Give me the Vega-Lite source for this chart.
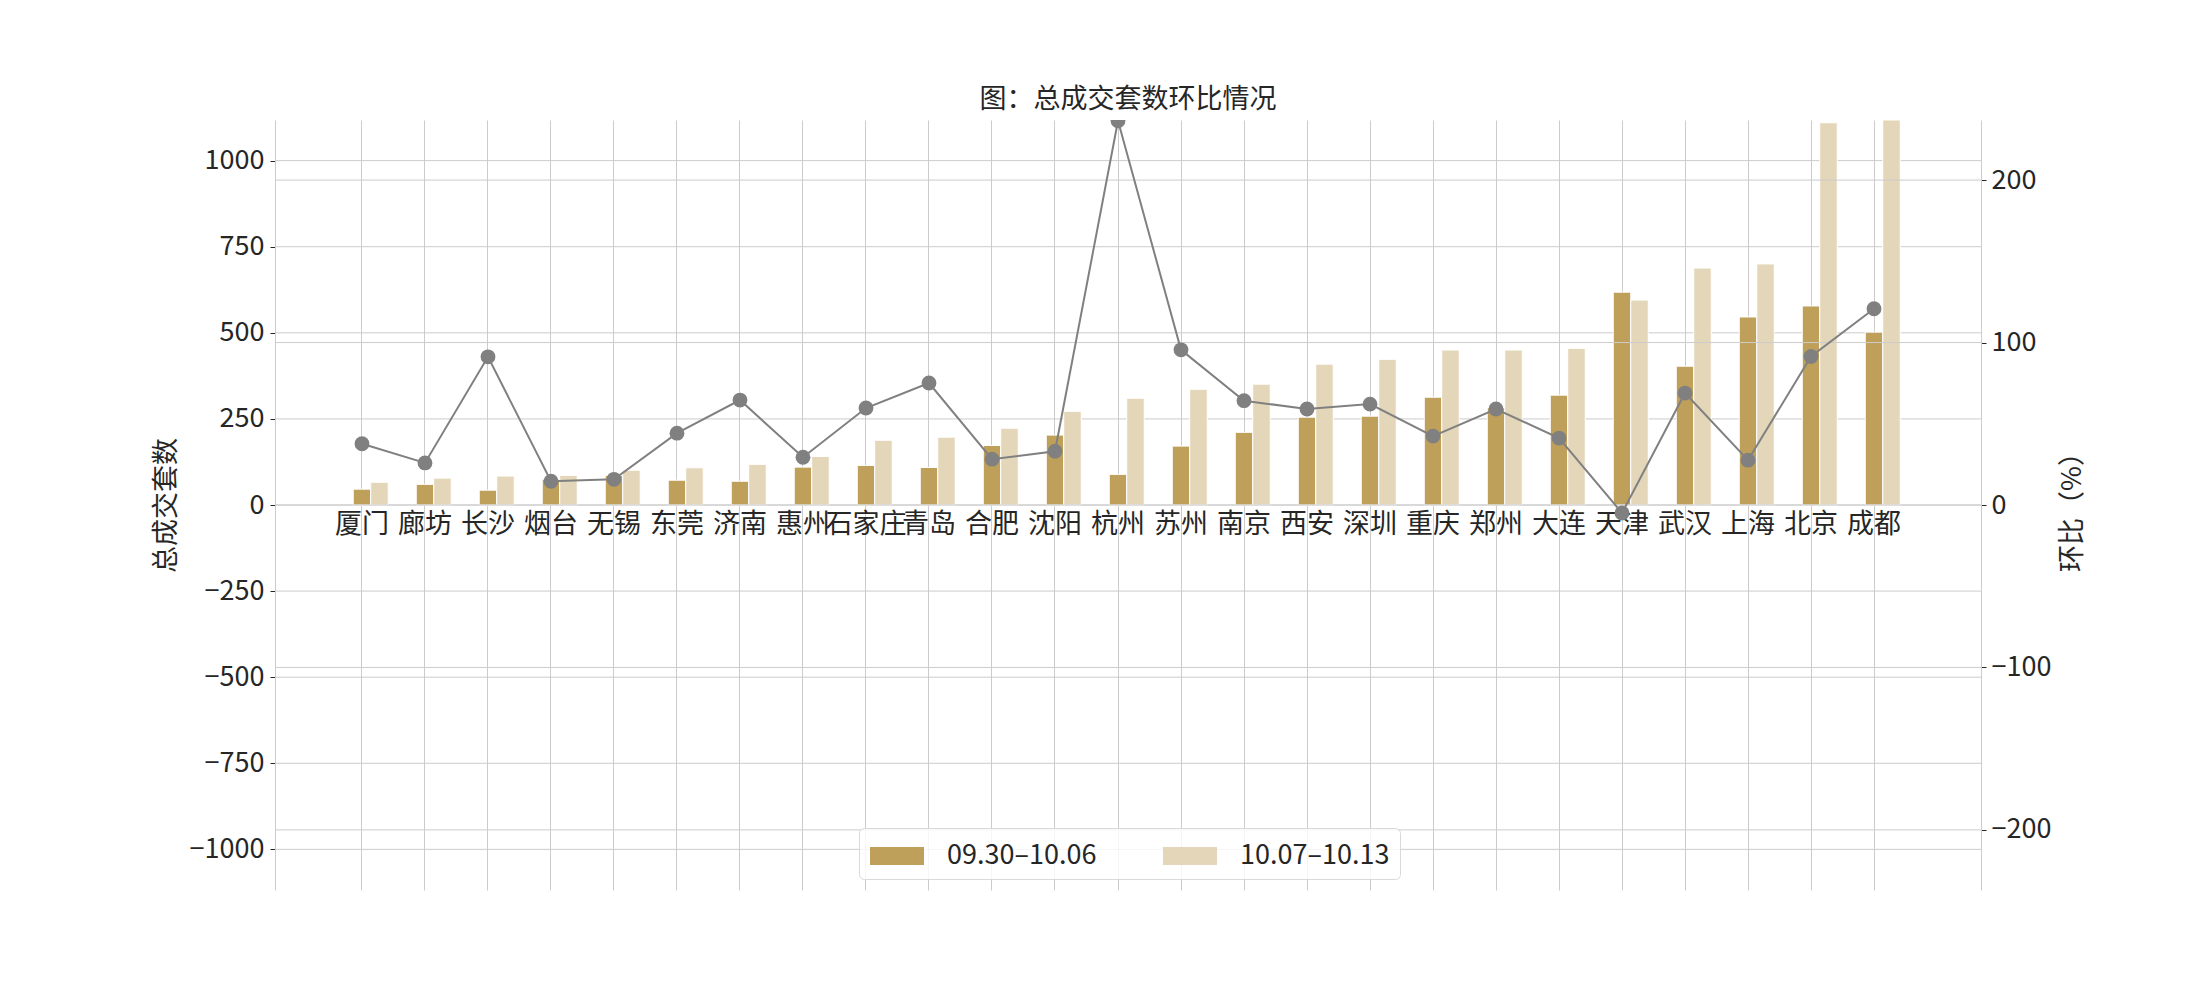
{
  "$schema": "https://vega.github.io/schema/vega-lite/v6.json",
  "width": 1706,
  "height": 770,
  "autosize": {"type": "none"},
  "padding": {"left": 275, "top": 120, "right": 219, "bottom": 110},
  "background": "white",
  "title": {
    "text": "图：总成交套数环比情况",
    "fontSize": 27,
    "fontWeight": "normal",
    "color": "#262626",
    "offset": 6
  },
  "config": {
    "font": "Noto Sans CJK SC",
    "view": {"stroke": null},
    "axis": {
      "labelFont": "Noto Sans CJK SC",
      "titleFont": "Noto Sans CJK SC",
      "labelFontSize": 27,
      "labelColor": "#262626",
      "titleFontSize": 27,
      "titleFontWeight": "normal",
      "titleColor": "#262626",
      "domainColor": "#cccccc",
      "gridColor": "#cccccc",
      "gridOpacity": 1,
      "tickColor": "#262626",
      "tickSize": 5
    },
    "legend": {"labelFont": "Noto Sans CJK SC"}
  },
  "datasets": {
    "sets": [
      {"city": "厦门", "period": "09.30–10.06", "sets": 46},
      {"city": "厦门", "period": "10.07–10.13", "sets": 66},
      {"city": "廊坊", "period": "09.30–10.06", "sets": 60},
      {"city": "廊坊", "period": "10.07–10.13", "sets": 78},
      {"city": "长沙", "period": "09.30–10.06", "sets": 43},
      {"city": "长沙", "period": "10.07–10.13", "sets": 84},
      {"city": "烟台", "period": "09.30–10.06", "sets": 75},
      {"city": "烟台", "period": "10.07–10.13", "sets": 86},
      {"city": "无锡", "period": "09.30–10.06", "sets": 86},
      {"city": "无锡", "period": "10.07–10.13", "sets": 101},
      {"city": "东莞", "period": "09.30–10.06", "sets": 72},
      {"city": "东莞", "period": "10.07–10.13", "sets": 108},
      {"city": "济南", "period": "09.30–10.06", "sets": 69},
      {"city": "济南", "period": "10.07–10.13", "sets": 118},
      {"city": "惠州", "period": "09.30–10.06", "sets": 110},
      {"city": "惠州", "period": "10.07–10.13", "sets": 141},
      {"city": "石家庄", "period": "09.30–10.06", "sets": 115},
      {"city": "石家庄", "period": "10.07–10.13", "sets": 188},
      {"city": "青岛", "period": "09.30–10.06", "sets": 109},
      {"city": "青岛", "period": "10.07–10.13", "sets": 197},
      {"city": "合肥", "period": "09.30–10.06", "sets": 173},
      {"city": "合肥", "period": "10.07–10.13", "sets": 223},
      {"city": "沈阳", "period": "09.30–10.06", "sets": 203},
      {"city": "沈阳", "period": "10.07–10.13", "sets": 272},
      {"city": "杭州", "period": "09.30–10.06", "sets": 89},
      {"city": "杭州", "period": "10.07–10.13", "sets": 310},
      {"city": "苏州", "period": "09.30–10.06", "sets": 171},
      {"city": "苏州", "period": "10.07–10.13", "sets": 336},
      {"city": "南京", "period": "09.30–10.06", "sets": 211},
      {"city": "南京", "period": "10.07–10.13", "sets": 351},
      {"city": "西安", "period": "09.30–10.06", "sets": 255},
      {"city": "西安", "period": "10.07–10.13", "sets": 409},
      {"city": "深圳", "period": "09.30–10.06", "sets": 258},
      {"city": "深圳", "period": "10.07–10.13", "sets": 423},
      {"city": "重庆", "period": "09.30–10.06", "sets": 313},
      {"city": "重庆", "period": "10.07–10.13", "sets": 450},
      {"city": "郑州", "period": "09.30–10.06", "sets": 282},
      {"city": "郑州", "period": "10.07–10.13", "sets": 450},
      {"city": "大连", "period": "09.30–10.06", "sets": 319},
      {"city": "大连", "period": "10.07–10.13", "sets": 455},
      {"city": "天津", "period": "09.30–10.06", "sets": 618},
      {"city": "天津", "period": "10.07–10.13", "sets": 595},
      {"city": "武汉", "period": "09.30–10.06", "sets": 403},
      {"city": "武汉", "period": "10.07–10.13", "sets": 688},
      {"city": "上海", "period": "09.30–10.06", "sets": 546},
      {"city": "上海", "period": "10.07–10.13", "sets": 700},
      {"city": "北京", "period": "09.30–10.06", "sets": 578},
      {"city": "北京", "period": "10.07–10.13", "sets": 1110},
      {"city": "成都", "period": "09.30–10.06", "sets": 502},
      {"city": "成都", "period": "10.07–10.13", "sets": 1118}
    ],
    "ratio": [
      {"city": "厦门", "ratio": 37.7},
      {"city": "廊坊", "ratio": 25.9},
      {"city": "长沙", "ratio": 91.2},
      {"city": "烟台", "ratio": 14.6},
      {"city": "无锡", "ratio": 15.8},
      {"city": "东莞", "ratio": 44.2},
      {"city": "济南", "ratio": 64.6},
      {"city": "惠州", "ratio": 29.4},
      {"city": "石家庄", "ratio": 59.7},
      {"city": "青岛", "ratio": 75.1},
      {"city": "合肥", "ratio": 28.2},
      {"city": "沈阳", "ratio": 33.1},
      {"city": "杭州", "ratio": 236.5},
      {"city": "苏州", "ratio": 95.5},
      {"city": "南京", "ratio": 64.2},
      {"city": "西安", "ratio": 59.1},
      {"city": "深圳", "ratio": 62.1},
      {"city": "重庆", "ratio": 42.4},
      {"city": "郑州", "ratio": 59.1},
      {"city": "大连", "ratio": 41.2},
      {"city": "天津", "ratio": -4.9},
      {"city": "武汉", "ratio": 68.9},
      {"city": "上海", "ratio": 27.6},
      {"city": "北京", "ratio": 91.4},
      {"city": "成都", "ratio": 120.8}
    ],
    "grid_left": [
      {"v": -1000}, {"v": -750}, {"v": -500}, {"v": -250}, {"v": 0},
      {"v": 250}, {"v": 500}, {"v": 750}, {"v": 1000}
    ],
    "grid_right": [
      {"v": -200}, {"v": -100}, {"v": 0}, {"v": 100}, {"v": 200}
    ]
  },
  "layer": [
    {
      "layer": [
        {
          "data": {"name": "grid_left"},
          "mark": {"type": "rule", "color": "#cccccc", "strokeWidth": 1},
          "encoding": {
            "y": {"field": "v", "type": "quantitative"}
          }
        },
        {
          "mark": {"type": "rule", "color": "#cccccc", "strokeWidth": 1},
          "encoding": {
            "y": {"datum": 1118, "type": "quantitative"}
          }
        },
        {
          "data": {"name": "sets"},
          "mark": {"type": "bar", "stroke": "white", "strokeWidth": 1, "clip": true},
          "encoding": {
            "x": {
              "field": "city",
              "type": "nominal",
              "sort": null,
              "scale": {"range": [60.75, 1625.25], "paddingInner": 0.167, "paddingOuter": 0},
              "axis": {
                "title": null,
                "orient": "bottom",
                "offset": -385,
                "labelAngle": 0,
                "labelPadding": 6,
                "labelOverlap": false,
                "ticks": false,
                "domain": false,
                "grid": true,
                "bandPosition": 0.5
              }
            },
            "xOffset": {
              "field": "period",
              "type": "nominal",
              "scale": {"domain": ["_", "09.30–10.06", "10.07–10.13"], "paddingInner": 0, "paddingOuter": 0}
            },
            "y": {
              "field": "sets",
              "type": "quantitative",
              "scale": {"domain": [-1118, 1118], "nice": false, "zero": false},
              "axis": {
                "title": "总成交套数",
                "orient": "left",
                "format": "d",
                "values": [-1000, -750, -500, -250, 0, 250, 500, 750, 1000],
                "labelPadding": 6,
                "titlePadding": 9,
                "grid": false
              }
            },
            "color": {
              "field": "period",
              "type": "nominal",
              "scale": {"domain": ["09.30–10.06", "10.07–10.13"], "range": ["#BFA05A", "#E3D6B9"]},
              "legend": {
                "title": null,
                "orient": "none",
                "legendX": 584,
                "legendY": 708,
                "direction": "horizontal",
                "symbolType": "M-1.5,-0.5H1.5V0.5H-1.5Z",
                "symbolSize": 1296,
                "symbolOffset": 10,
                "symbolStrokeWidth": 0,
                "symbolOpacity": 1,
                "labelFontSize": 27,
                "labelColor": "#262626",
                "labelOffset": 32,
                "columnPadding": 65,
                "padding": 10,
                "fillColor": "rgba(255,255,255,0.8)",
                "strokeColor": "#d9d9d9",
                "cornerRadius": 5
              }
            }
          }
        }
      ]
    },
    {
      "layer": [
        {
          "data": {"name": "grid_right"},
          "mark": {"type": "rule", "color": "#cccccc", "strokeWidth": 1},
          "encoding": {
            "y": {"field": "v", "type": "quantitative"}
          }
        },
        {
          "data": {"name": "ratio"},
          "mark": {"type": "line", "color": "#808080", "strokeWidth": 2, "clip": true},
          "encoding": {
            "x": {"field": "city", "type": "nominal", "sort": null},
            "y": {
              "field": "ratio",
              "type": "quantitative",
              "scale": {"domain": [-237, 237], "nice": false, "zero": false},
              "axis": {
                "title": "环比（%）",
                "orient": "right",
                "titleAngle": 270,
                "values": [-200, -100, 0, 100, 200],
                "labelPadding": 5,
                "titlePadding": 36,
                "grid": false
              }
            }
          }
        },
        {
          "data": {"name": "ratio"},
          "mark": {"type": "point", "filled": true, "size": 220, "color": "#808080", "opacity": 1, "clip": true},
          "encoding": {
            "x": {"field": "city", "type": "nominal", "sort": null},
            "y": {"field": "ratio", "type": "quantitative"}
          }
        }
      ]
    }
  ],
  "resolve": {"scale": {"y": "independent"}}
}
